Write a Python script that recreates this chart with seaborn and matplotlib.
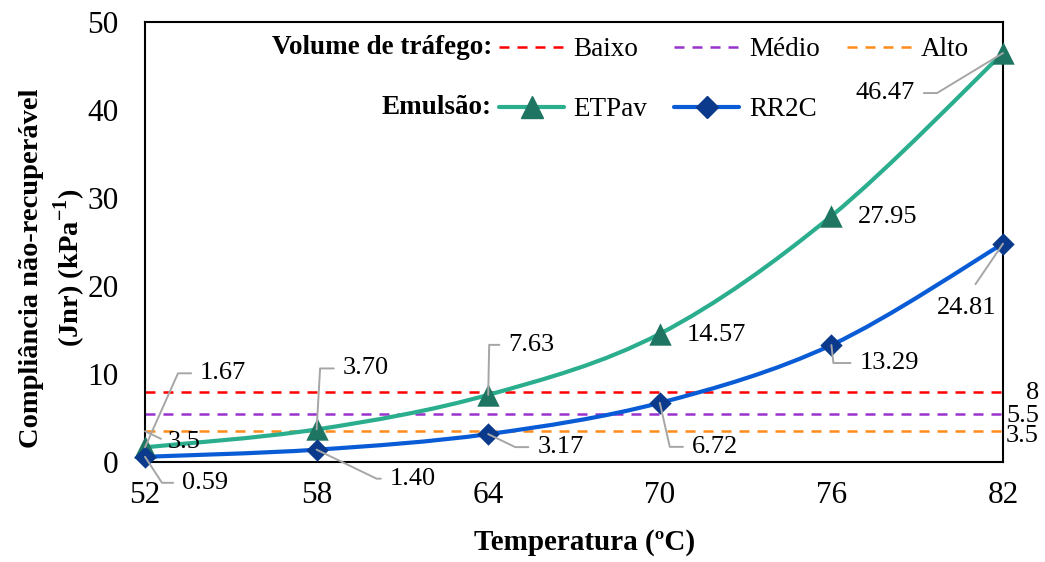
import numpy as np
import pandas as pd
import matplotlib
matplotlib.use("Agg")
import matplotlib.pyplot as plt
import seaborn as sns
from matplotlib.path import Path
from matplotlib.patches import PathPatch
from matplotlib.lines import Line2D
import math

# ---- data ----
temps = [52, 58, 64, 70, 76, 82]
etpav = [1.67, 3.70, 7.63, 14.57, 27.95, 46.47]
rr2c = [0.59, 1.40, 3.17, 6.72, 13.29, 24.81]
etpav_labels = ["1.67", "3.70", "7.63", "14.57", "27.95", "46.47"]
rr2c_labels = ["0.59", "1.40", "3.17", "6.72", "13.29", "24.81"]
traffic_names = ["Baixo", "Médio", "Alto"]
traffic_limits = [8, 5.5, 3.5]
traffic_labels = ["8", "5.5", "3.5"]
xticks = [52, 58, 64, 70, 76, 82]
yticks = [0, 10, 20, 30, 40, 50]

sns.set_theme(style="white")
plt.rcParams['font.family'] = ['Liberation Serif', 'DejaVu Serif']
plt.rcParams['mathtext.fontset'] = 'custom'
plt.rcParams['mathtext.rm'] = 'Liberation Serif'
plt.rcParams['mathtext.bf'] = 'Liberation Serif:bold'
plt.rcParams['text.color'] = 'black'
plt.rcParams['axes.labelcolor'] = 'black'
plt.rcParams['xtick.color'] = 'black'
plt.rcParams['ytick.color'] = 'black'

PX = 72 / 100.0  # pixels -> points

fig = plt.figure(figsize=(10.45, 5.62), dpi=100)
ax = fig.add_axes([145/1045, 1-462/562, (1003-145)/1045, (462-22)/562])

traffic_colors = ["#FF0000", "#9933CC", "#FF8C1A"]
etp_line, etp_mark = "#2BAE8E", "#1E7561"
rr_line, rr_mark = "#0A5CD6", "#0B3A8C"
dash = (0, (4, 3.2))

# threshold lines
for val, col in zip(traffic_limits, traffic_colors):
    ax.hlines(val, temps[0], temps[-1], colors=col, linestyles=dash, lw=1.8, zorder=2)

def smooth_path(xs, ys):
    xs = np.asarray(xs, float); ys = np.asarray(ys, float)
    n = len(xs)
    verts = [(xs[0], ys[0])]
    codes = [Path.MOVETO]
    for i in range(n - 1):
        p0 = (xs[max(i-1, 0)], ys[max(i-1, 0)])
        p1 = (xs[i], ys[i]); p2 = (xs[i+1], ys[i+1])
        p3 = (xs[min(i+2, n-1)], ys[min(i+2, n-1)])
        c1 = (p1[0] + (p2[0]-p0[0])/6, p1[1] + (p2[1]-p0[1])/6)
        c2 = (p2[0] - (p3[0]-p1[0])/6, p2[1] - (p3[1]-p1[1])/6)
        verts += [c1, c2, p2]
        codes += [Path.CURVE4]*3
    return Path(verts, codes)

ax.add_patch(PathPatch(smooth_path(temps, etpav), fc='none', ec=etp_line, lw=3, zorder=3))
ax.add_patch(PathPatch(smooth_path(temps, rr2c), fc='none', ec=rr_line, lw=3, zorder=3))

df_e = pd.DataFrame({"T": temps, "J": etpav})
df_r = pd.DataFrame({"T": temps, "J": rr2c})
sns.scatterplot(data=df_e, x="T", y="J", marker="^", color=etp_mark, s=260,
                linewidth=0, legend=False, ax=ax, zorder=4, clip_on=False)
sns.scatterplot(data=df_r, x="T", y="J", marker="D", color=rr_mark, s=130,
                linewidth=0, legend=False, ax=ax, zorder=4, clip_on=False)

ax.set_xlim(52, 82)
ax.set_ylim(0, 50)
ax.set_xticks(xticks)
ax.set_yticks(yticks)
ax.tick_params(axis='both', labelsize=22.5, direction='out', length=7, width=1.3,
               color='black', labelcolor='black')
ax.tick_params(axis='x', pad=7)
ax.tick_params(axis='y', pad=12)
for sp in ax.spines.values():
    sp.set_color('black'); sp.set_linewidth(1.5); sp.set_visible(True)
ax.set_xlabel("Temperatura (ºC)", fontsize=21, fontweight='bold')
ax.xaxis.set_label_coords((585-145)/858, (462-529)/440)
ax.set_ylabel("Compliância não-recuperável\n(Jnr) (kPa$^{\\mathbf{-1}}$)", fontsize=20.5,
              fontweight='bold', linespacing=1.3)
ax.yaxis.set_label_coords((88-145)/858, (462-268)/440)

gray = "#A6A6A6"
FS = 19

def lab(x, y, text, t_off, c_off=None, ha='left'):
    """t_off: text anchor offset in px (right, down); c_off: leader corner offset in px."""
    tx, ty = t_off
    kw = dict(xy=(x, y), xytext=(tx*PX, -ty*PX), textcoords='offset points',
              ha=ha, va='center', fontsize=FS, color='black', zorder=6)
    if c_off is not None:
        cx, cy = c_off
        angB = math.degrees(math.atan2(-cy, cx)) if (cx, cy) != (0, 0) else 90
        kw['arrowprops'] = dict(arrowstyle='-', color=gray, lw=1.4, shrinkA=4, shrinkB=0,
                                relpos=(0, 0.5) if ha == 'left' else (1, 0.5),
                                connectionstyle=f"angle,angleA=0,angleB={angB},rad=0")
    ax.annotate(text, **kw)

etp_t = [(55, -74), (26, -61), (20, -50), (27, 1), (26, 1), (-88, 40)]
etp_c = [(33, -74), (3.5, -61), (1, -50), None, None, (-66, 40)]
rr_t = [(37, 26), (73, 29), (49, 13), (32, 44), (28, 18), None]
rr_c = [(17, 26), (60, 29), (27, 13), (10, 44), (2, 18), None]

for i, (x, y) in enumerate(zip(temps, etpav)):
    lab(x, y, etpav_labels[i], etp_t[i], etp_c[i], ha='left' if etp_t[i][0] > 0 else 'right')
for i, (x, y) in enumerate(zip(temps, rr2c)):
    if rr_t[i] is None:
        ax.annotate(rr2c_labels[i], xy=(x, y), xytext=(-36*PX, -53*PX), textcoords='offset points',
                    ha='center', va='top', fontsize=FS, color='black', zorder=6,
                    arrowprops=dict(arrowstyle='-', color=gray, lw=1.4, shrinkA=8, shrinkB=0,
                                    relpos=(0.5, 1)))
    else:
        lab(x, y, rr2c_labels[i], rr_t[i], rr_c[i])

# threshold value labels on right
right_dy = [1, 2, 5]
for val, t, d in zip(traffic_limits, traffic_labels, right_dy):
    ax.annotate(t, xy=(temps[-1], val), xytext=(36*PX, -d*PX), textcoords='offset points',
                ha='right', va='center', fontsize=FS, color='black', annotation_clip=False)
ax.annotate(traffic_labels[2], xy=(temps[0], traffic_limits[2]), xytext=(23*PX, -11*PX),
            textcoords='offset points', ha='left', va='center', fontsize=FS, color='black',
            arrowprops=dict(arrowstyle='-', color=gray, lw=1.4, shrinkA=3, shrinkB=0,
                            relpos=(0, 0.5)))

# legends
ax.text(492/1045, 1-47/562, "Volume de tráfego:", transform=fig.transFigure, ha='right',
        va='center', fontsize=19.5, fontweight='bold')
ax.text(492/1045, 1-107/562, "Emulsão:", transform=fig.transFigure, ha='right',
        va='center', fontsize=19.5, fontweight='bold')
blank = Line2D([], [], color='none')
handles = [Line2D([], [], color=traffic_colors[0], ls=dash, lw=1.8),
           Line2D([], [], color=etp_line, lw=3, marker='^', ms=16, mfc=etp_mark, mec=etp_mark),
           Line2D([], [], color=traffic_colors[1], ls=dash, lw=1.8),
           Line2D([], [], color=rr_line, lw=3, marker='D', ms=11, mfc=rr_mark, mec=rr_mark),
           Line2D([], [], color=traffic_colors[2], ls=dash, lw=1.8),
           blank]
labels = ["Baixo", "ETPav", "Médio", "RR2C", "Alto", ""]
ax.legend(handles, labels, ncol=3, frameon=False, fontsize=19.5,
          loc='upper left', bbox_to_anchor=(499/1045, 1-37/562),
          bbox_transform=fig.transFigure, handlelength=2.4, handletextpad=0.35,
          columnspacing=1.0, borderaxespad=0, borderpad=0, labelspacing=1.3)

fig.savefig("out.png", dpi=100)
